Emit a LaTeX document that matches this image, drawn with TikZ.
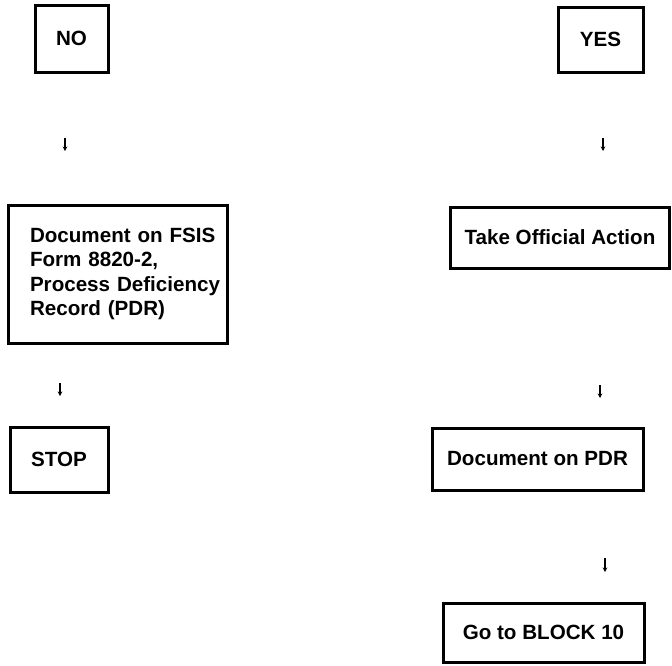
\documentclass[tikz,border=0pt]{standalone}
\usepackage{fontspec}
\setmainfont{Liberation Sans}
\usetikzlibrary{arrows.meta}
\tikzset{
  flowbox/.style={draw=black, line width=3pt, rectangle, inner sep=0pt,
    font=\fontsize{20.6}{24.5}\selectfont\bfseries, align=center},
  tinyarrow/.style={line width=1.4pt, -{Stealth[length=4.5pt,width=4.5pt]}}
}
\begin{document}
\begin{tikzpicture}[x=1pt,y=-1pt]
\useasboundingbox (0,0) rectangle (672,665);
% left column
\node[flowbox, minimum width=73pt, minimum height=67pt] (no) at (71.5,38.5) {NO};
\node[flowbox, text width=205pt, inner xsep=7pt, minimum height=138pt, align=left] (doc) at (117.5,274)
  {\hspace*{15pt}\mbox{Document on FSIS}\\\hspace*{15pt}\mbox{Form 8820-2,}\\\hspace*{15pt}\mbox{Process Deficiency}\\\hspace*{15pt}\mbox{Record (PDR)}};
\node[flowbox, minimum width=98pt, minimum height=65pt] (stop) at (59,459.5) {STOP};
% right column
\node[flowbox, minimum width=85pt, minimum height=65pt] (yes) at (600.5,39.5) {YES};
\node[flowbox, minimum width=219pt, minimum height=61pt] (action) at (560,237.5) {Take Official Action};
\node[flowbox, minimum width=211pt, minimum height=62pt] (pdr) at (537.5,459) {Document on PDR};
\node[flowbox, minimum width=201pt, minimum height=59pt] (block) at (543.5,632.5) {Go to BLOCK 10};
% small free-standing arrows
\coordinate (a1s) at (65,138); \coordinate (a1e) at (65,151);
\coordinate (a2s) at (60,383); \coordinate (a2e) at (60,396);
\coordinate (b1s) at (603,138); \coordinate (b1e) at (603,151);
\coordinate (b2s) at (600,385); \coordinate (b2e) at (600,398);
\coordinate (b3s) at (605,558); \coordinate (b3e) at (605,572);
\draw[tinyarrow] (a1s) -- (a1e);
\draw[tinyarrow] (a2s) -- (a2e);
\draw[tinyarrow] (b1s) -- (b1e);
\draw[tinyarrow] (b2s) -- (b2e);
\draw[tinyarrow] (b3s) -- (b3e);
\end{tikzpicture}
\end{document}
